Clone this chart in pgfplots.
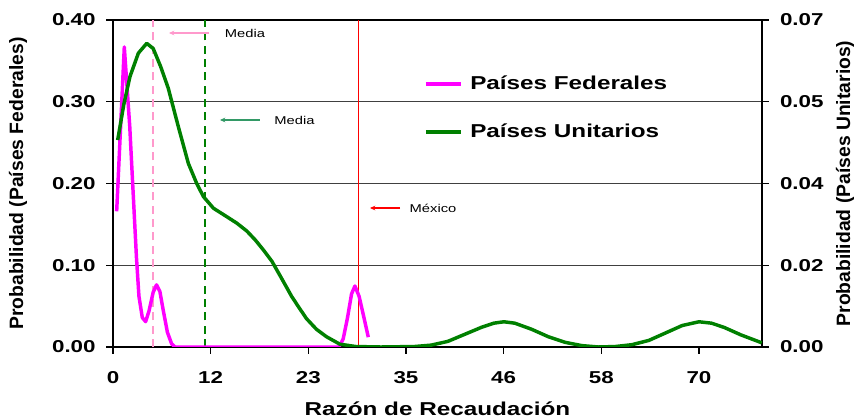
\documentclass[border=0pt]{standalone}
\usepackage{pgfplots}
\pgfplotsset{compat=1.18}
\usepackage{fontspec}
\setmainfont{Liberation Sans}[FakeStretch=1.3]
\newfontfamily\ylabfont{Liberation Sans}
\usetikzlibrary{arrows.meta}

\definecolor{fedmag}{RGB}{255,0,255}
\definecolor{unigreen}{RGB}{0,128,0}
\definecolor{fedpink}{RGB}{255,153,204}
\definecolor{arrgreen}{RGB}{51,153,102}

\pgfplotstableread{
x y
0.44 0.166
1.35 0.367
2.0 0.270
2.5 0.170
2.8 0.110
3.1 0.062
3.5 0.036
3.9 0.031
4.3 0.044
4.8 0.067
5.2 0.076
5.6 0.068
6.0 0.045
6.5 0.018
7.0 0.004
7.4 0.000
27.0 0.000
27.5 0.010
28.0 0.035
28.5 0.065
28.9 0.0746
29.4 0.062
30.0 0.035
30.5 0.012
}\federales

\pgfplotstableread{
x y
0.56 0.0443
1.3 0.0520
2.03 0.0579
3.03 0.0629
4.03 0.0650
4.8 0.0639
5.7 0.0600
6.6 0.0554
7.8 0.0472
9.0 0.0393
10.0 0.0350
10.8 0.0322
12.0 0.0297
13.5 0.0280
14.8 0.0265
16.0 0.0248
17.0 0.0229
18.0 0.0207
19.0 0.0183
20.2 0.0145
21.35 0.0108
22.2 0.0085
23.1 0.0061
24.3 0.0038
25.5 0.0022
27.1 0.0006
29.0 0.0001
32.0 0.0000
36.0 0.0001
38.0 0.0004
40.0 0.0012
42.0 0.0027
44.0 0.0042
45.5 0.0051
46.7 0.0054
48.0 0.0051
50.0 0.0038
52.0 0.0022
54.0 0.0010
56.0 0.0003
58.0 0.0000
60.0 0.0001
62.0 0.0005
64.0 0.0014
66.0 0.0030
68.0 0.0046
70.0 0.0054
71.5 0.0051
73.0 0.0042
75.0 0.0026
77.5 0.0009
}\unitarios

\begin{document}
\begin{tikzpicture}
\pgfplotsset{
  every axis/.append style={
    scale only axis, width=486.75pt, height=245.25pt,
    xmin=0, xmax=77.53, at={(0,0)}, anchor=south west,
    tick align=outside, major tick length=5pt,
    tick style={black, line width=0.8pt},
    axis line style={black, line width=1pt},
    ticklabel style={font=\fontsize{12.9}{14}\selectfont\bfseries},
    ylabel style={font=\ylabfont\fontsize{14.5}{16}\selectfont\bfseries, anchor=center},
    scaled y ticks=false,
  }
}
\begin{axis}[
  ymin=0, ymax=0.4,
  ytick={0,0.1,0.2,0.3,0.4},
  yticklabels={0.00,0.10,0.20,0.30,0.40},
  xtick={0,11.667,23.333,35,46.667,58.333,70},
  xticklabels={0,12,23,35,46,58,70},
  tick pos=left,
  yticklabel style={xshift=-4.5pt},
  xticklabel style={yshift=-9.75pt},
  ymajorgrids, grid style={black!75, line width=0.8pt},
  xlabel={Razón de Recaudación},
  ylabel={Probabilidad (Países Federales)},
  xlabel style={font=\fontsize{14}{16}\selectfont\bfseries, at={(axis description cs:0.5,0)}, anchor=base, yshift=-51.5pt},
  ylabel style={at={([xshift=-71.25pt]axis description cs:0,0.5)}},
]
\addplot[fedpink, line width=1.8pt, dash pattern=on 6pt off 4pt] coordinates {(4.8,0) (4.8,0.4)};
\addplot[unigreen, line width=1.8pt, dash pattern=on 6pt off 4pt] coordinates {(11.0,0) (11.0,0.4)};
\addplot[red, line width=1.1pt] coordinates {(29.3,0) (29.3,0.4)};
\addplot[fedmag, line width=2.6pt, line join=round] table[x=x,y=y] {\federales};
\draw[fedpink, line width=0.9pt, -{Stealth[length=4pt,width=3.5pt]}] (axis cs:11.47,0.3841) -- (axis cs:6.69,0.3841);
\node[font=\fontsize{8.5}{10}\selectfont] at (axis cs:15.77,0.3841) {Media};
\draw[arrgreen, line width=0.9pt, -{Stealth[length=4pt,width=3.5pt]}] (axis cs:17.56,0.2777) -- (axis cs:12.78,0.2777);
\node[font=\fontsize{8.5}{10}\selectfont] at (axis cs:21.68,0.2777) {Media};
\draw[red, line width=0.9pt, -{Stealth[length=4pt,width=3.5pt]}] (axis cs:34.29,0.170) -- (axis cs:30.7,0.170);
\node[font=\fontsize{8.5}{10}\selectfont] at (axis cs:38.23,0.170) {México};
\end{axis}
\begin{axis}[
  ymin=0, ymax=0.07,
  axis y line*=right, axis x line=none,
  ytick={0,0.0175,0.035,0.0525,0.07},
  yticklabels={0.00,0.02,0.04,0.05,0.07},
  yticklabel style={xshift=5pt},
  ylabel={Probabilidad (Países Unitarios)},
  ylabel style={at={([xshift=62.25pt]axis description cs:1,0.5)}},
  legend style={at={(axis description cs:0.479,0.731)}, anchor=west, draw=none, fill=none,
    font=\fontsize{14}{16}\selectfont\bfseries, row sep=20pt, inner sep=0pt,
    /tikz/every odd column/.append style={column sep=4pt}},
  legend cell align=left,
  legend image code/.code={\draw[#1] (0pt,0pt) -- (26pt,0pt);},
]
\addlegendimage{fedmag, line width=2.6pt}
\addlegendentry{Países Federales}
\addplot[unigreen, line width=2.6pt, line join=round] table[x=x,y=y] {\unitarios};
\addlegendentry{Países Unitarios}
\end{axis}
\pgfresetboundingbox
\path[use as bounding box] (-84.75pt,-54.75pt) rectangle (557.25pt,260.25pt);
\end{tikzpicture}
\end{document}
